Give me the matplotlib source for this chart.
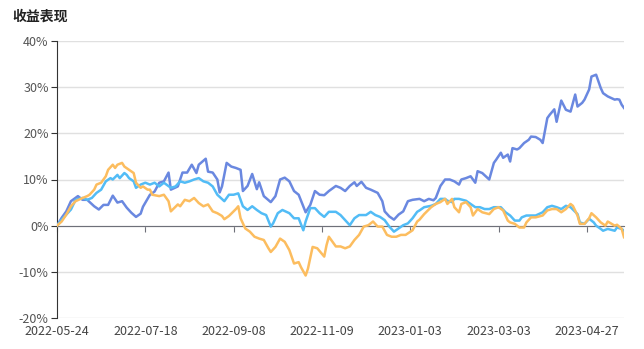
import matplotlib
matplotlib.use('Agg')
import matplotlib.pyplot as plt
import matplotlib.ticker as mticker

plt.rcParams['font.family'] = ['Noto Sans CJK SC', 'DejaVu Sans']

# trading-day index -> cumulative return (%)
blue_days = [0, 2, 4, 6, 9, 11, 13, 16, 18, 20, 22, 24, 26, 28, 30, 32, 34, 36, 37, 40,
             42, 44, 46, 48, 49, 52, 54, 56, 58, 60, 61, 64, 65, 67, 69, 70, 71, 73, 75, 77,
             79, 80, 82, 84, 86, 87, 89, 92, 94, 96, 98, 100, 102, 104, 107, 109, 111, 113, 115, 117,
             120, 122, 124, 126, 128, 129, 131, 133, 135, 138, 140, 141, 143, 145, 147, 149, 151, 153, 156, 158,
             160, 162, 163, 165, 167, 169, 171, 173, 174, 176, 178, 180, 181, 183, 186, 188, 189, 191, 192, 194,
             195, 196, 198, 199, 201, 203, 204, 206, 208, 209, 211, 212, 214, 215, 217, 219, 221, 223, 224, 226,
             227, 229, 230, 232, 234, 235, 237, 240, 241, 242, 243, 244]
blue_vals = [0, 1.7, 3.1, 5.3, 6.4, 5.6, 5.6, 4.2, 3.5, 4.5, 4.5, 6.5, 5.0, 5.3, 3.9, 2.8, 1.9, 2.6, 4.1, 6.7,
             7.4, 9.3, 9.6, 11.5, 7.8, 8.5, 11.5, 11.5, 13.2, 11.4, 13.2, 14.5, 11.7, 11.5, 10.0, 7.2, 8.5, 13.6, 12.8, 12.5,
             12.1, 7.5, 8.6, 11.2, 7.9, 9.4, 6.4, 5.1, 6.4, 10.0, 10.4, 9.6, 7.5, 6.7, 2.9, 4.5, 7.5, 6.7, 6.6, 7.5,
             8.6, 8.2, 7.5, 8.6, 9.4, 8.6, 9.5, 8.2, 7.8, 7.1, 5.3, 3.1, 2.0, 1.3, 2.4, 3.1, 5.3, 5.6, 5.8, 5.3,
             5.8, 5.5, 6.0, 8.6, 10.0, 10.0, 9.6, 8.9, 10.0, 10.3, 10.7, 9.3, 11.8, 11.4, 10.0, 13.6, 14.3, 15.8, 14.7, 15.4,
             13.9, 16.8, 16.5, 16.8, 17.9, 18.6, 19.3, 19.2, 18.6, 17.9, 23.3, 24.0, 25.2, 22.5, 27.1, 25.1, 24.7, 28.4, 25.8, 26.6,
             27.3, 29.5, 32.3, 32.7, 29.8, 28.7, 28.0, 27.3, 27.4, 27.3, 26.2, 25.5]

lblue_days = [0, 2, 4, 6, 8, 11, 13, 15, 17, 19, 21, 23, 24, 26, 27, 29, 30, 31, 33, 34,
              36, 38, 40, 42, 44, 46, 49, 51, 53, 55, 57, 59, 61, 63, 65, 67, 69, 72, 74, 76,
              78, 80, 82, 84, 86, 88, 90, 92, 93, 95, 97, 100, 102, 104, 106, 107, 109, 111, 113, 115,
              117, 120, 122, 124, 126, 128, 130, 133, 135, 137, 139, 141, 143, 145, 147, 149, 151, 153, 155, 156,
              158, 161, 163, 165, 167, 168, 170, 171, 173, 176, 178, 180, 182, 184, 186, 188, 191, 193, 195, 197,
              199, 200, 202, 204, 206, 209, 211, 213, 215, 217, 219, 221, 224, 225, 227, 229, 231, 232, 234, 235,
              237, 240, 241, 243, 244]
lblue_vals = [0, 1.3, 2.4, 3.5, 5.6, 6.0, 5.6, 6.0, 7.1, 7.8, 9.6, 10.3, 10.0, 11.0, 10.3, 11.4, 11.0, 10.3, 9.6, 8.2,
              8.9, 9.3, 8.9, 9.3, 8.5, 9.3, 8.2, 8.5, 9.6, 9.3, 9.6, 10.0, 10.3, 9.6, 9.3, 8.5, 6.7, 5.3, 6.7, 6.7,
              7.0, 4.2, 3.4, 4.2, 3.4, 2.7, 2.3, -0.2, 0.5, 2.7, 3.4, 2.7, 1.6, 1.6, -1.0, 0.9, 3.8, 3.8, 2.7, 1.9,
              3.0, 3.0, 2.3, 1.2, 0.1, 1.6, 2.3, 2.3, 3.0, 2.3, 1.9, 1.2, -0.2, -1.3, -0.6, 0.1, 0.5, 1.6, 3.0, 3.3,
              4.0, 4.3, 4.7, 5.8, 5.8, 5.4, 5.1, 5.8, 5.8, 5.4, 4.7, 4.0, 4.0, 3.6, 3.6, 4.0, 4.0, 2.9, 2.2, 1.1,
              1.1, 1.8, 2.2, 2.2, 2.2, 2.9, 4.0, 4.3, 4.0, 3.6, 4.3, 4.0, 2.5, 0.7, 0.4, 1.5, 0.7, 0.0, -0.7, -1.1,
              -0.7, -1.1, -0.4, -0.7, -1.1]

orange_days = [0, 2, 4, 6, 8, 11, 13, 14, 16, 17, 19, 21, 22, 24, 25, 26, 28, 29, 31, 33,
               34, 36, 37, 39, 40, 41, 44, 46, 48, 49, 52, 53, 55, 57, 59, 61, 63, 65, 67, 69,
               71, 72, 74, 77, 78, 79, 81, 83, 85, 87, 89, 91, 92, 94, 96, 98, 100, 102, 104, 105,
               107, 108, 110, 112, 115, 116, 117, 120, 122, 124, 126, 128, 130, 132, 134, 136, 138, 140, 142, 144,
               146, 148, 150, 153, 155, 156, 158, 161, 163, 165, 167, 168, 170, 171, 173, 174, 176, 178, 179, 181,
               183, 186, 188, 190, 192, 194, 195, 197, 199, 201, 202, 204, 206, 209, 211, 213, 215, 217, 219, 221,
               222, 224, 225, 227, 229, 230, 232, 234, 236, 237, 240, 241, 243, 244]
orange_vals = [0, 0.9, 2.4, 4.2, 5.3, 6.0, 6.4, 6.7, 7.8, 8.9, 9.3, 10.7, 12.1, 13.2, 12.5, 13.2, 13.6, 12.8, 12.1, 11.4,
               9.3, 8.2, 8.5, 7.8, 7.8, 6.7, 6.4, 6.7, 5.3, 3.1, 4.6, 4.2, 5.6, 5.3, 6.0, 4.9, 4.2, 4.6, 3.1, 2.7,
               2.1, 1.4, 2.1, 3.6, 4.2, 1.6, -0.6, -1.3, -2.4, -2.8, -3.1, -4.9, -5.7, -4.6, -2.8, -3.5, -5.3, -8.2, -7.9, -9.0,
               -10.8, -9.3, -4.6, -4.9, -6.7, -4.2, -2.4, -4.5, -4.5, -4.9, -4.5, -3.1, -2.0, -0.2, 0.1, 0.9, -0.2, -0.2, -2.0, -2.4,
               -2.4, -2.0, -2.0, -1.0, 0.9, 1.3, 2.5, 4.0, 4.7, 5.1, 5.8, 4.7, 5.8, 4.0, 2.9, 4.7, 5.1, 4.0, 2.2, 3.6,
               2.9, 2.5, 3.6, 4.0, 3.3, 1.1, 0.7, 0.4, -0.4, -0.4, 0.7, 1.8, 1.8, 2.2, 3.3, 3.6, 3.6, 2.9, 3.6, 4.7,
               4.3, 2.2, 0.4, 0.4, 1.6, 2.7, 1.8, 0.7, 0.0, 0.9, 0.0, 0.2, -0.7, -2.5]

tick_days = [0, 38, 76, 114, 152, 190, 228]
tick_labels = ['2022-05-24', '2022-07-18', '2022-09-08', '2022-11-09',
               '2023-01-03', '2023-03-03', '2023-04-27']

fig = plt.figure(figsize=(6.44, 3.49), dpi=100)
ax = fig.add_axes([57/644, 1 - 318/349, (624 - 57)/644, (318 - 41)/349])

ax.plot(blue_days, blue_vals, color='#6a88e0', lw=1.8, zorder=3)
ax.plot(lblue_days, lblue_vals, color='#52bcf6', lw=1.8, zorder=3)
ax.plot(orange_days, orange_vals, color='#fcbd5f', lw=1.8, zorder=3)

ax.set_xlim(0, 244)
ax.set_ylim(-20, 40)
ax.set_yticks(range(-20, 41, 10))
ax.yaxis.set_major_formatter(mticker.FuncFormatter(lambda v, p: '%d%%' % v))
ax.grid(axis='y', color='#e0e0e0', lw=1)
ax.set_axisbelow(True)

for s in ['top', 'right']:
    ax.spines[s].set_visible(False)
ax.spines['left'].set_color('#333333')
ax.spines['bottom'].set_position(('data', 0))
ax.spines['bottom'].set_color('#6e7079')
ax.spines['bottom'].set_zorder(2)

ax.set_xticks(tick_days)
ax.tick_params(axis='x', length=4, color='#6e7079', labelbottom=False, direction='out')
ax.tick_params(axis='y', length=4, color='#333333', labelcolor='#555555', labelsize=9, pad=2)

sec = ax.secondary_xaxis(0)
sec.set_xticks(tick_days)
sec.set_xticklabels(tick_labels)
sec.spines['bottom'].set_visible(False)
sec.tick_params(length=0, labelsize=9, labelcolor='#444444', pad=5)

fig.text(12/644, 1 - 17/349, '收益表现', fontsize=10, fontweight='bold', color='#222222',
         va='center', ha='left')

fig.savefig('out.png', dpi=100)
